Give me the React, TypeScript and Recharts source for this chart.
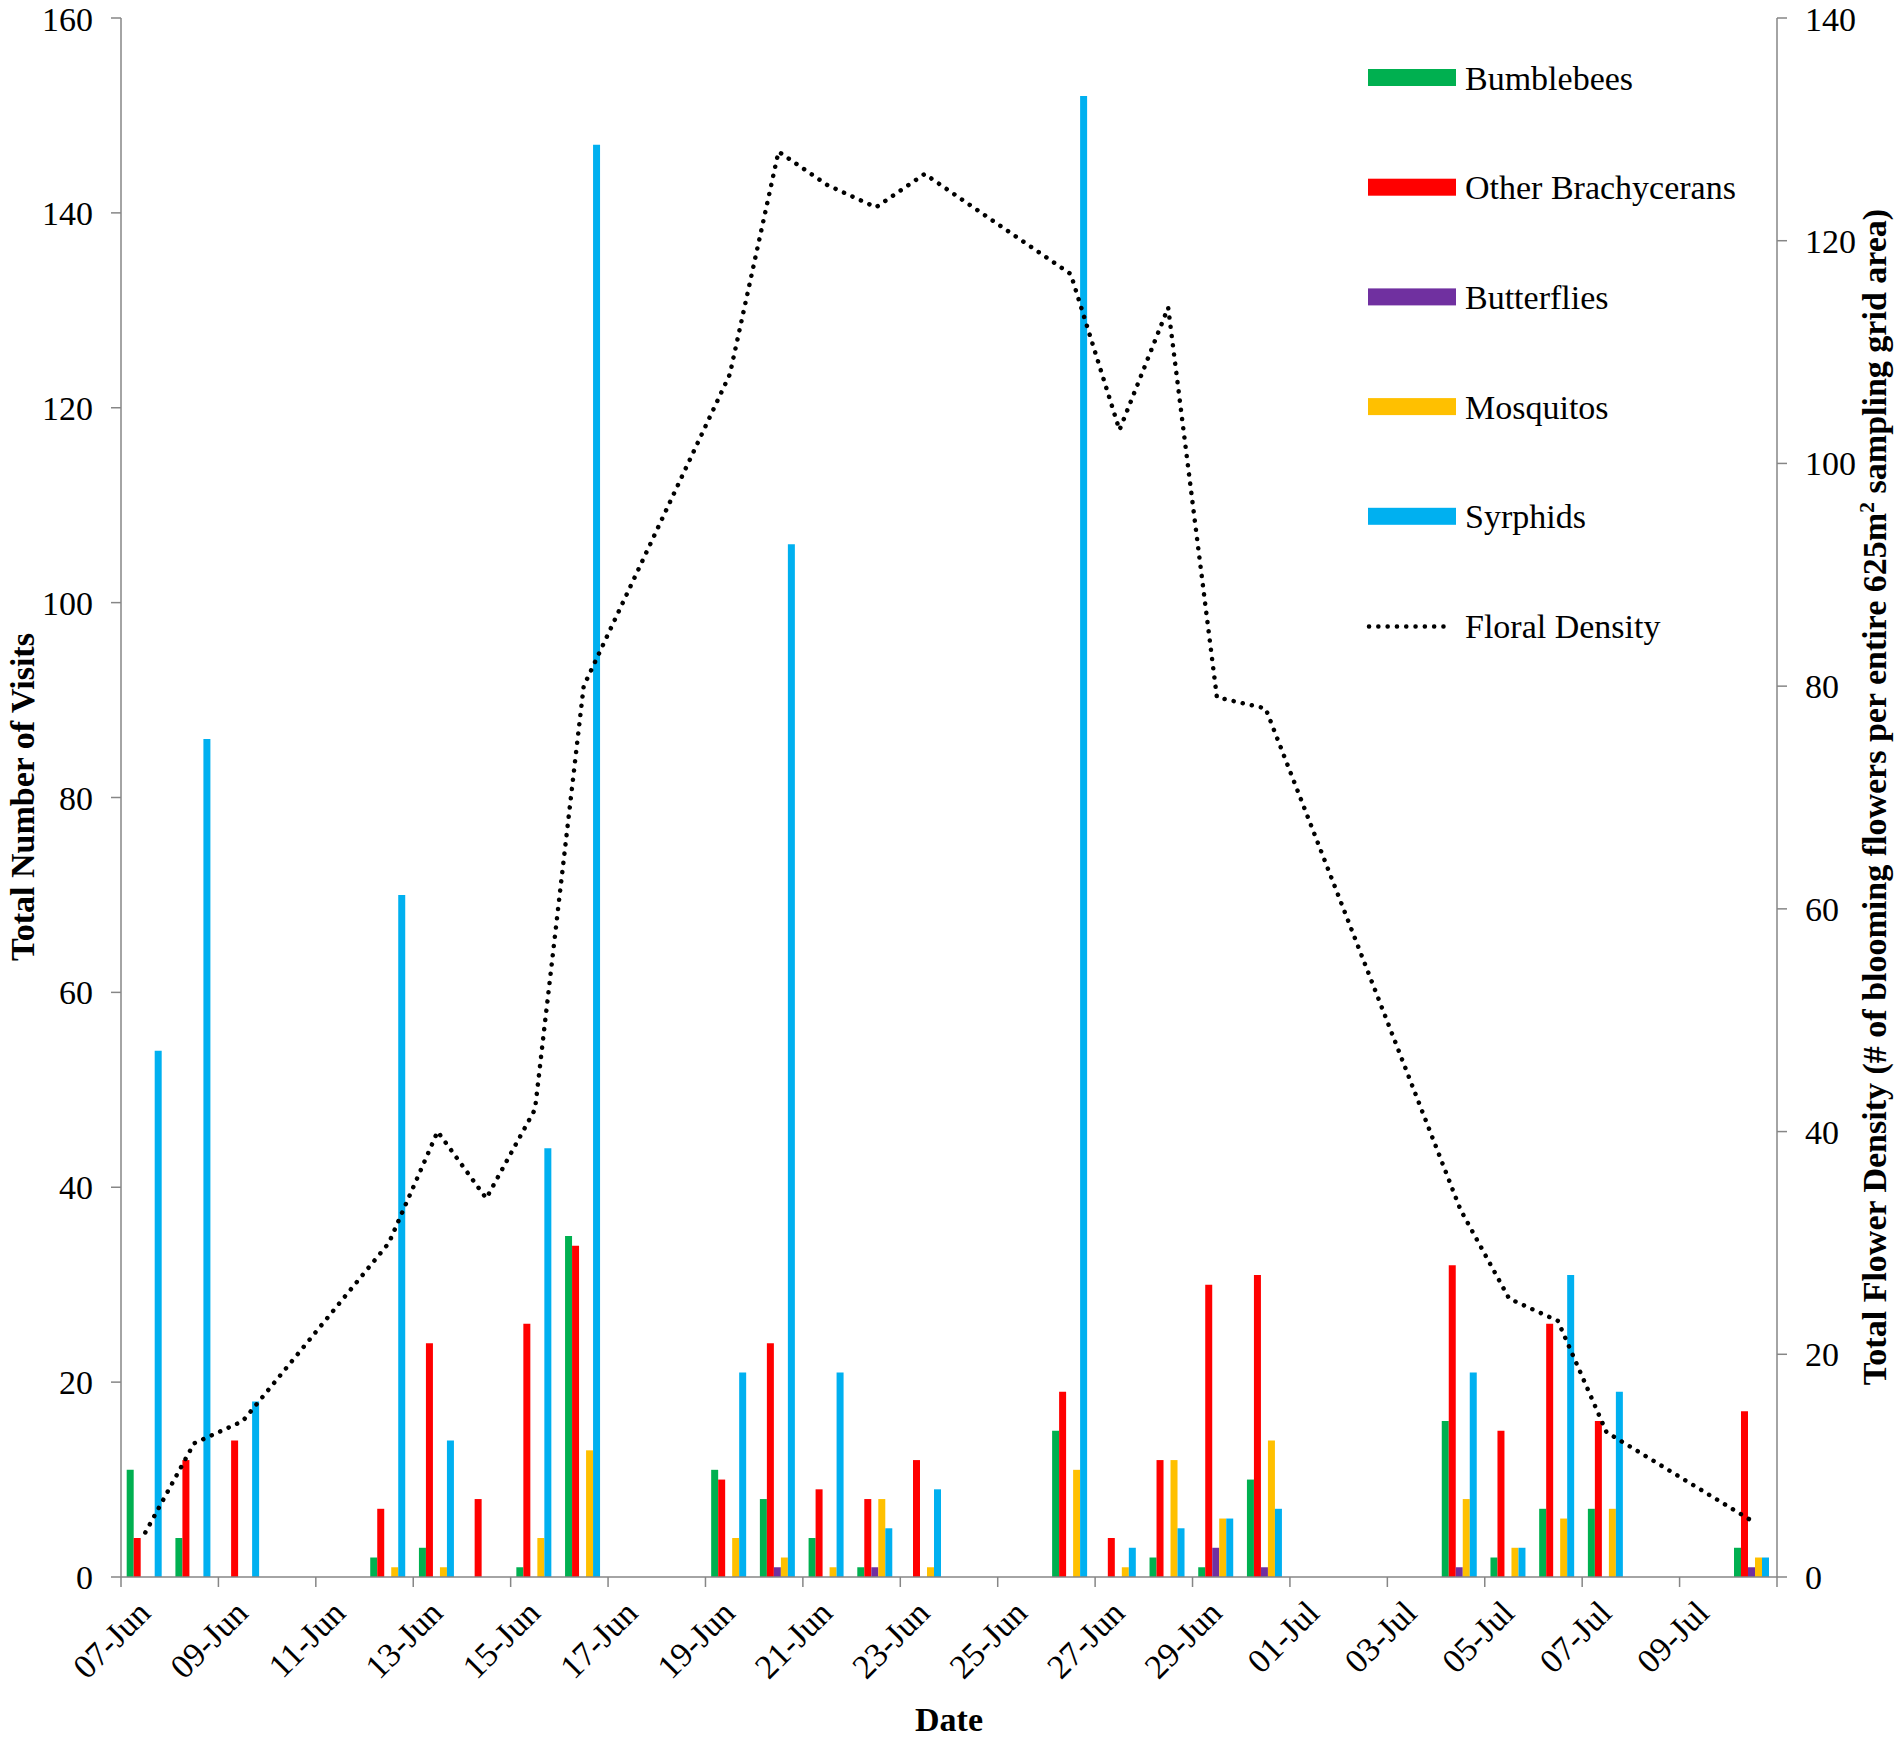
import { Bar, ComposedChart, Line, XAxis, YAxis } from "recharts";

const dates = [
  "07-Jun", "08-Jun", "09-Jun", "10-Jun", "11-Jun", "12-Jun", "13-Jun", "14-Jun", "15-Jun",
  "16-Jun", "17-Jun", "18-Jun", "19-Jun", "20-Jun", "21-Jun", "22-Jun", "23-Jun", "24-Jun",
  "25-Jun", "26-Jun", "27-Jun", "28-Jun", "29-Jun", "30-Jun", "01-Jul", "02-Jul", "03-Jul",
  "04-Jul", "05-Jul", "06-Jul", "07-Jul", "08-Jul", "09-Jul", "10-Jul",
];

const _ = null;
const bumblebees = [11, 4, _, _, _, 2, 3, _, 1, 35, _, _, 11, 8, 4, 1, _, _, _, 15, _, 2, 1, 10, _, _, _, 16, 2, 7, 7, _, _, 3];
const brachycerans = [4, 12, 14, _, _, 7, 24, 8, 26, 34, _, _, 10, 24, 9, 8, 12, _, _, 19, 4, 12, 30, 31, _, _, _, 32, 15, 26, 16, _, _, 17];
const butterflies = [_, _, _, _, _, _, _, _, _, _, _, _, _, 1, _, 1, _, _, _, _, _, _, 3, 1, _, _, _, 1, _, _, _, _, _, 1];
const mosquitos = [_, _, _, _, _, 1, 1, _, 4, 13, _, _, 4, 2, 1, 8, 1, _, _, 11, 1, 12, 6, 14, _, _, _, 8, 3, 6, 7, _, _, 2];
const syrphids = [54, 86, 18, _, _, 70, 14, _, 44, 147, _, _, 21, 106, 21, 5, 9, _, _, 152, 3, 5, 6, 7, _, _, _, 21, 3, 31, 19, _, _, 2];
const floral = [4, 12, 14, _, _, 30, 40, 34, 42, 80, _, _, 108, 128, 125, 123, 126, _, _, 117, 103, 114, 79, 78, _, _, _, 33, 25, 23, 13, _, _, 5];

const leftTicks = [0, 20, 40, 60, 80, 100, 120, 140, 160];
const rightTicks = [0, 20, 40, 60, 80, 100, 120, 140];

const series = [
  { key: "bumblebees", name: "Bumblebees", color: "#00B050", values: bumblebees },
  { key: "brachycerans", name: "Other Brachycerans", color: "#FF0000", values: brachycerans },
  { key: "butterflies", name: "Butterflies", color: "#7030A0", values: butterflies },
  { key: "mosquitos", name: "Mosquitos", color: "#FFC000", values: mosquitos },
  { key: "syrphids", name: "Syrphids", color: "#00B0F0", values: syrphids },
];

const data = dates.map((date, i) => {
  const row: Record<string, string | number | null> = { date, floral: floral[i] };
  series.forEach((s) => (row[s.key] = s.values[i]));
  return row;
});

const W = 1902;
const H = 1739;
const margin = { top: 18, right: 25, bottom: 62, left: 21 };
const AXIS_W = 100;
const XAXIS_H = 100;
const PLOT_W = W - margin.left - margin.right - 2 * AXIS_W;
const BAND = PLOT_W / dates.length;
const FONT = "'Liberation Serif', 'Times New Roman', serif";
const AXIS = "#868686";
const DOTS = "0.1 9.2";
const TICK_FONT = 34;

function DateTick(props: any) {
  const { x, y, payload } = props;
  const edge = x - BAND / 2;
  const tx = x + 7;
  const ty = y + 38;
  return (
    <g>
      <line x1={edge} x2={edge} y1={y} y2={y + 10} stroke={AXIS} strokeWidth={1.5} />
      {payload.index === dates.length - 2 && (
        <line x1={edge + 2 * BAND} x2={edge + 2 * BAND} y1={y} y2={y + 10} stroke={AXIS} strokeWidth={1.5} />
      )}
      <text
        x={tx}
        y={ty}
        textAnchor="end"
        transform={`rotate(-45, ${tx}, ${ty})`}
        fontSize={TICK_FONT}
        fontFamily={FONT}
        fill="#000"
      >
        {payload.value}
      </text>
    </g>
  );
}

export default function App() {
  const legendTop = 78;
  const legendStep = 109.7;
  return (
    <div style={{ position: "relative", width: W, height: H, background: "#fff" }}>
      <style>{"body{margin:0}"}</style>
      <ComposedChart width={W} height={H} data={data} margin={margin} barCategoryGap="11.7%" barGap={0}>
        <XAxis
          dataKey="date"
          height={XAXIS_H}
          interval={1}
          tickLine={false}
          tickSize={0}
          tickMargin={0}
          tick={<DateTick />}
          axisLine={{ stroke: AXIS, strokeWidth: 1.5 }}
        />
        <YAxis
          yAxisId="left"
          orientation="left"
          width={AXIS_W}
          domain={[0, 160]}
          ticks={leftTicks}
          allowDataOverflow
          tickSize={10}
          tickMargin={18}
          axisLine={{ stroke: AXIS, strokeWidth: 1.5 }}
          tickLine={{ stroke: AXIS, strokeWidth: 1.5 }}
          tick={{ fontSize: TICK_FONT, fontFamily: FONT, fill: "#000" }}
        />
        <YAxis
          yAxisId="right"
          orientation="right"
          width={AXIS_W}
          domain={[0, 140]}
          ticks={rightTicks}
          allowDataOverflow
          tickSize={10}
          tickMargin={18}
          axisLine={{ stroke: AXIS, strokeWidth: 1.5 }}
          tickLine={{ stroke: AXIS, strokeWidth: 1.5 }}
          tick={{ fontSize: TICK_FONT, fontFamily: FONT, fill: "#000" }}
        />
        {series.map((s) => (
          <Bar key={s.key} yAxisId="left" dataKey={s.key} name={s.name} fill={s.color} isAnimationActive={false} />
        ))}
        <Line
          yAxisId="right"
          type="linear"
          dataKey="floral"
          name="Floral Density"
          stroke="#000"
          strokeWidth={4.5}
          strokeDasharray={DOTS}
          strokeLinecap="round"
          dot={false}
          activeDot={false}
          connectNulls
          isAnimationActive={false}
        />
      </ComposedChart>

      <svg width={W} height={H} style={{ position: "absolute", left: 0, top: 0, pointerEvents: "none" }}>
        <g fontFamily={FONT} fill="#000">
          <text transform="translate(34, 797) rotate(-90)" textAnchor="middle" fontSize={34} fontWeight="bold">
            Total Number of Visits
          </text>
          <text transform="translate(1886, 797) rotate(-90)" textAnchor="middle" fontSize={34} fontWeight="bold">
            Total Flower Density (# of blooming flowers per entire 625m
            <tspan dy={-12} fontSize={22}>2</tspan>
            <tspan dy={12}> sampling grid area)</tspan>
          </text>
          <text x={949} y={1731} textAnchor="middle" fontSize={34} fontWeight="bold">
            Date
          </text>
          {series.map((s, i) => {
            const cy = legendTop + i * legendStep;
            return (
              <g key={s.key}>
                <rect x={1368} y={cy - 9} width={88} height={17} fill={s.color} />
                <text x={1465} y={cy + 11.5} fontSize={34}>
                  {s.name}
                </text>
              </g>
            );
          })}
          <line
            x1={1369}
            x2={1452}
            y1={legendTop + 5 * legendStep}
            y2={legendTop + 5 * legendStep}
            stroke="#000"
            strokeWidth={4.5}
            strokeDasharray={DOTS}
            strokeLinecap="round"
          />
          <text x={1465} y={legendTop + 5 * legendStep + 11.5} fontSize={34}>
            Floral Density
          </text>
        </g>
      </svg>
    </div>
  );
}
